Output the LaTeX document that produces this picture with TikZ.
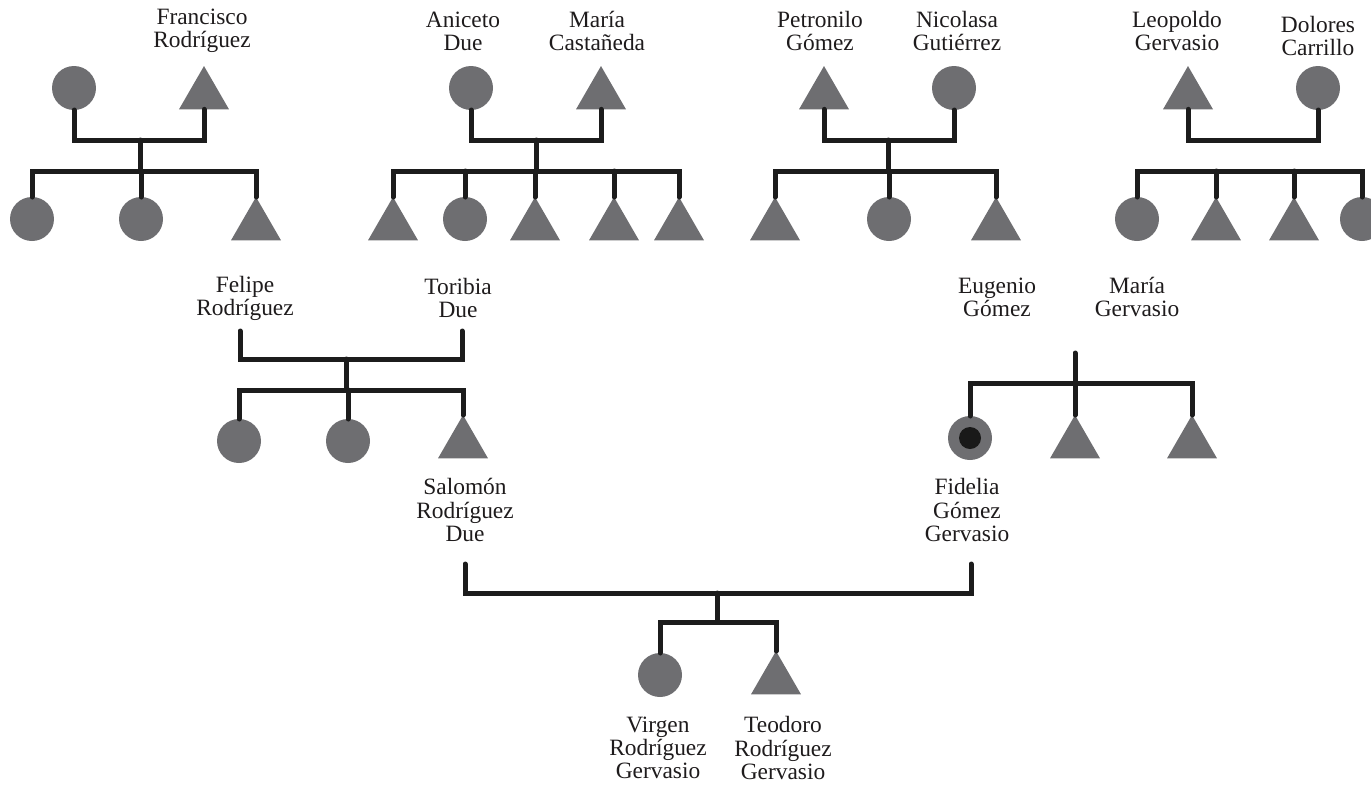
\documentclass[tikz,border=0pt]{standalone}
\usepackage{fontspec}
\setmainfont{Liberation Serif}
\usetikzlibrary{shapes.geometric}
\definecolor{shp}{RGB}{110,110,113}
\definecolor{ink}{RGB}{28,28,28}
\definecolor{txt}{RGB}{30,27,28}
\begin{document}
\begin{tikzpicture}[x=0.5pt,y=-0.5pt,
  fem/.style={circle,fill=shp,draw=none,minimum size=22pt,inner sep=0pt,outer sep=0pt},
  mal/.style={regular polygon,regular polygon sides=3,fill=shp,draw=none,minimum size=28.87pt,inner sep=0pt,outer sep=0pt},
  dotc/.style={circle,fill=black!90,draw=none,minimum size=11pt,inner sep=0pt},
  lbl/.style={align=center,text=txt,font=\fontsize{11.7}{11.6}\selectfont,inner sep=0pt},
  kin/.style={draw=ink,line width=2.5pt,line cap=round,line join=miter}]
\useasboundingbox (0,0) rectangle (1371,784);

% ---------- Group 1 ----------
\node[fem] (g1a) at (74,88) {};
\node[mal] (g1b) at (204,94.9) {};
\node[lbl] (l1b) at (202,31) {Francisco\\Rodríguez};
\node[fem] (g1c1) at (32,219) {};
\node[fem] (g1c2) at (141,219) {};
\node[mal] (g1c3) at (256,225.9) {};
\coordinate (m1) at (140,140);
\coordinate (b1) at (140,171);
\draw[kin] (g1a.south) |- (m1) -| (g1b.side 2);
\draw[kin] (m1) -- (b1);
\draw[kin] (g1c1.north) |- (b1) -| (g1c3.corner 1);
\draw[kin] (g1c2.north) -- (g1c2.north |- b1);

% ---------- Group 2 ----------
\node[fem] (g2a) at (471,88) {};
\node[mal] (g2b) at (601,94.9) {};
\node[lbl] (l2a) at (463,31) {Aniceto\\Due};
\node[lbl] (l2b) at (597,31) {María\\Castañeda};
\node[mal] (g2c1) at (393,225.9) {};
\node[fem] (g2c2) at (465,219) {};
\node[mal] (g2c3) at (535,225.9) {};
\node[mal] (g2c4) at (614,225.9) {};
\node[mal] (g2c5) at (679,225.9) {};
\coordinate (m2) at (536,140);
\coordinate (b2) at (536,171);
\draw[kin] (g2a.south) |- (m2) -| (g2b.side 2);
\draw[kin] (m2) -- (b2);
\draw[kin] (g2c1.corner 1) |- (b2) -| (g2c5.corner 1);
\draw[kin] (g2c2.north) -- (g2c2.north |- b2);
\draw[kin] (g2c3.corner 1) -- (g2c3.corner 1 |- b2);
\draw[kin] (g2c4.corner 1) -- (g2c4.corner 1 |- b2);

% ---------- Group 3 ----------
\node[mal] (g3a) at (824,94.9) {};
\node[fem] (g3b) at (954,88) {};
\node[lbl] (l3a) at (820,31) {Petronilo\\Gómez};
\node[lbl] (l3b) at (957,31) {Nicolasa\\Gutiérrez};
\node[mal] (g3c1) at (775,225.9) {};
\node[fem] (g3c2) at (889,219) {};
\node[mal] (g3c3) at (996,225.9) {};
\coordinate (m3) at (888,140);
\coordinate (b3) at (888,171);
\draw[kin] (g3a.side 2) |- (m3) -| (g3b.south);
\draw[kin] (m3) -- (b3);
\draw[kin] (g3c1.corner 1) |- (b3) -| (g3c3.corner 1);
\draw[kin] (g3c2.north) -- (g3c2.north |- b3);

% ---------- Group 4 ----------
\node[mal] (g4a) at (1188,94.9) {};
\node[fem] (g4b) at (1318,88) {};
\node[lbl] (l4a) at (1177,31) {Leopoldo\\Gervasio};
\node[lbl] (l4b) at (1318,36) {Dolores\\Carrillo};
\node[fem] (g4c1) at (1137,219) {};
\node[mal] (g4c2) at (1216,225.9) {};
\node[mal] (g4c3) at (1294,225.9) {};
\node[fem] (g4c4) at (1362,219) {};
\coordinate (b4) at (1250,171);
\draw[kin] (g4a.side 2) |- (g4b.south |- 0,140) -- (g4b.south);
\draw[kin] (g4c1.north) |- (b4) -| (g4c4.north);
\draw[kin] (g4c2.corner 1) -- (g4c2.corner 1 |- b4);
\draw[kin] (g4c3.corner 1) -- (g4c3.corner 1 |- b4);

% ---------- Group 5 ----------
\node[lbl] (l5a) at (245,298) {Felipe\\Rodríguez};
\node[lbl] (l5b) at (458,298) {Toribia\\Due};
\coordinate (e5a) at (240,331);
\coordinate (e5b) at (462,331);
\coordinate (m5) at (346,359);
\coordinate (b5) at (346,390);
\node[fem] (g5c1) at (239,441) {};
\node[fem] (g5c2) at (348,441) {};
\node[mal] (g5c3) at (463,443.9) {};
\node[lbl] (l5c) at (465,510) {Salomón\\Rodríguez\\Due};
\draw[kin] (e5a) |- (m5) -| (e5b);
\draw[kin] (m5) -- (b5);
\draw[kin] (g5c1.north) |- (b5) -| (g5c3.corner 1);
\draw[kin] (g5c2.north) -- (g5c2.north |- b5);

% ---------- Group 6 ----------
\node[lbl] (l6a) at (997,297) {Eugenio\\Gómez};
\node[lbl] (l6b) at (1137,297) {María\\Gervasio};
\coordinate (e6) at (1075,353);
\coordinate (b6) at (1075,383);
\node[fem] (g6c1) at (970,438) {};
\node[dotc] (g6dot) at (970,438) {};
\node[mal] (g6c2) at (1075,443.9) {};
\node[mal] (g6c3) at (1192,443.9) {};
\node[lbl] (l6c) at (967,510) {Fidelia\\Gómez\\Gervasio};
\draw[kin] (e6) -- (g6c2.corner 1);
\draw[kin] (g6c1.north) |- (b6) -| (g6c3.corner 1);

% ---------- Group 7 ----------
\coordinate (e7a) at (465,564);
\coordinate (e7b) at (971,564);
\coordinate (m7) at (717,593);
\coordinate (b7) at (717,622);
\node[fem] (g7c1) at (660,675) {};
\node[mal] (g7c2) at (776,679.9) {};
\node[lbl] (l7a) at (658,748) {Virgen\\Rodríguez\\Gervasio};
\node[lbl] (l7b) at (783,748) {Teodoro\\Rodríguez\\Gervasio};
\draw[kin] (e7a) |- (m7) -| (e7b);
\draw[kin] (m7) -- (b7);
\draw[kin] (g7c1.north) |- (b7) -| (g7c2.corner 1);
\end{tikzpicture}
\end{document}
